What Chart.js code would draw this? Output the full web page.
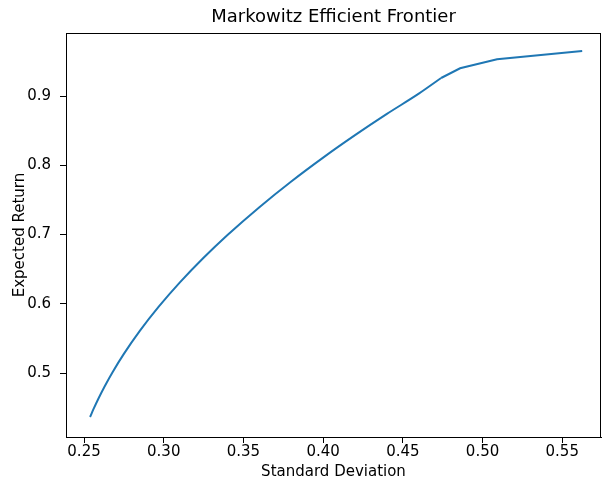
<!DOCTYPE html>
<html>
<head>
<meta charset="utf-8">
<script src="https://cdn.jsdelivr.net/npm/chart.js@4.4.0/dist/chart.umd.min.js"></script>
<style>
  html, body { margin: 0; padding: 0; background: #fff; }
  #wrap { width: 602px; height: 481px; }
</style>
</head>
<body>
<div id="wrap"><canvas id="frontier"></canvas></div>
<script>
// Standard deviation / expected return
const stdDevs = [0.2538, 0.2560, 0.2590, 0.2630, 0.2680, 0.2750, 0.2850, 0.2970, 0.3100, 0.3250,
                 0.3400, 0.3600, 0.3800, 0.4000, 0.4200, 0.4400, 0.4600, 0.4740, 0.4859, 0.5091,
                 0.5625];
const returns = [0.4365, 0.4481, 0.4629, 0.4810, 0.5016, 0.5276, 0.5608, 0.5961, 0.6305, 0.6664,
                 0.6993, 0.7395, 0.7766, 0.8111, 0.8435, 0.8742, 0.9034, 0.9260, 0.9400, 0.9530,
                 0.9650];
// from here on the frontier is made of straight pieces
const tailStart = 17;

const xTicks = [0.25, 0.30, 0.35, 0.40, 0.45, 0.50, 0.55];
const yTicks = [0.5, 0.6, 0.7, 0.8, 0.9];

const font = 'DejaVu Sans';

// matplotlib style box round the plot area
const spines = {
  id: 'spines',
  afterDraw(chart) {
    const {ctx, chartArea} = chart;
    ctx.save();
    ctx.strokeStyle = '#000';
    ctx.lineWidth = 1;
    ctx.strokeRect(chartArea.left + 0.5, chartArea.top + 0.5,
                   chartArea.right - chartArea.left - 1, chartArea.bottom - chartArea.top);
    ctx.restore();
  }
};

let points = [];
stdDevs.forEach((s, i) => {
  points.push({x: s, y: returns[i]});
});

new Chart(document.getElementById('frontier'), {
  type: 'line',
  data: {
    datasets: [{
      data: points.slice(0, tailStart + 1),
      borderColor: '#1f77b4',
      borderWidth: 2,
      pointRadius: 0,
      cubicInterpolationMode: 'monotone',
      fill: false
    }, {
      data: points.slice(tailStart),
      borderColor: '#1f77b4',
      borderWidth: 2,
      pointRadius: 0,
      tension: 0,
      fill: false
    }]
  },
  options: {
    responsive: true,
    maintainAspectRatio: false,
    animation: false,
    layout: { padding: { right: 1 } },
    plugins: {
      legend: { display: false },
      tooltip: { enabled: false },
      title: {
        display: true,
        text: 'Markowitz Efficient Frontier',
        fullSize: false,
        color: '#000',
        font: { family: font, size: 18, weight: 'normal' },
        padding: { top: 7, bottom: 4.4 }
      }
    },
    scales: {
      x: {
        type: 'linear',
        min: 0.2387,
        max: 0.5743,
        afterFit: (scale) => { scale.height = 44; },
        afterBuildTicks: (scale) => { scale.ticks = xTicks.map(v => ({value: v})); },
        ticks: {
          color: '#000',
          font: { family: font, size: 15 },
          padding: 0,
          maxRotation: 0,
          callback: (v) => Number(v).toFixed(2)
        },
        grid: { display: true, drawOnChartArea: false, drawTicks: true, tickLength: 6, color: '#000' },
        border: { display: true, color: '#000', width: 1 },
        title: {
          display: true,
          text: 'Standard Deviation',
          color: '#000',
          font: { family: font, size: 15 },
          padding: { top: 0, bottom: 0 }
        }
      },
      y: {
        type: 'linear',
        min: 0.4076,
        max: 0.991,
        afterFit: (scale) => { scale.width = 66; },
        afterBuildTicks: (scale) => { scale.ticks = yTicks.map(v => ({value: v})); },
        ticks: {
          color: '#000',
          font: { family: font, size: 15 },
          padding: 9,
          callback: (v) => Number(v).toFixed(1)
        },
        grid: { display: true, drawOnChartArea: false, drawTicks: true, tickLength: 6, color: '#000' },
        border: { display: true, color: '#000', width: 1 },
        title: {
          display: true,
          text: 'Expected Return',
          color: '#000',
          font: { family: font, size: 15 },
          padding: { top: 11, bottom: 0 }
        }
      }
    }
  },
  plugins: [spines]
});
</script>
</body>
</html>
